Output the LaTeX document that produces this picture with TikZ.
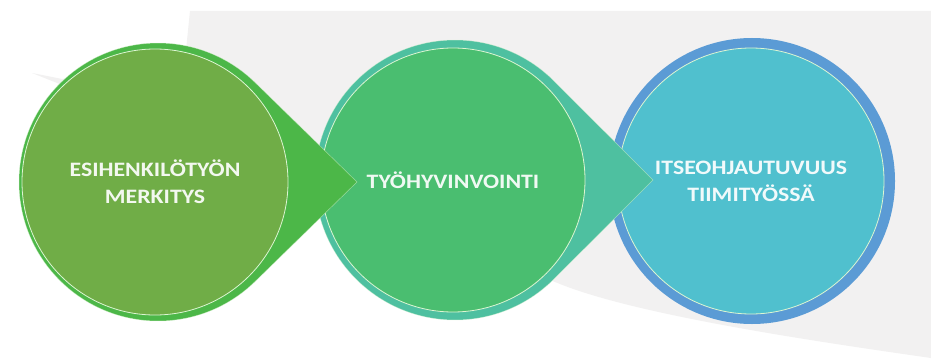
\documentclass[tikz,border=0pt]{standalone}
\usepackage{fontspec}
\setmainfont{Carlito}[FakeStretch=1.16]
\definecolor{bggray}{RGB}{242,241,241}
\definecolor{gOuter}{RGB}{76,183,72}
\definecolor{gInner}{RGB}{112,173,71}
\definecolor{tOuter}{RGB}{78,192,160}
\definecolor{tInner}{RGB}{74,190,112}
\definecolor{bOuter}{RGB}{91,155,213}
\definecolor{bInner}{RGB}{80,192,206}
\definecolor{rimline}{RGB}{220,245,210}
\newcommand\teardrop[5]{%
  \pgfmathsetmacro\tdang{acos(#3/(#4-#1))}%
  \filldraw[fill=#5, draw=rimline, draw opacity=0.55, line width=0.5pt]
    (#1,#2) ++(\tdang:#3) arc[start angle=\tdang, end angle=360-\tdang, radius=#3] -- (#4,#2) -- cycle;}
\tikzset{
  inner/.style={circle, minimum size=#1, inner sep=0pt, draw=rimline, line width=0.8pt,
    text=white, text opacity=0.92, align=center,
    font=\bfseries\fontsize{20.5}{27}\selectfont},
}
\begin{document}
\begin{tikzpicture}[x=1pt,y=-1pt]
\useasboundingbox (0,0) rectangle (931,361);
\fill[white] (0,0) rectangle (931,361);
% gray background plane
\fill[bggray] (190,11) -- (931,11) -- (931,358)
  .. controls (820,342) and (640,316) .. (560,284)
  -- (120,108) -- (32,73) -- (62,79) -- (185,60) -- cycle;
% third circle
\fill[bOuter] (752,181) circle[radius=143];
\node[inner=266pt, fill=bInner] (c3) at (751,181) {ITSEOHJAUTUVUUS\\TIIMITYÖSSÄ};
% second
\teardrop{455}{180}{140}{653}{tOuter}
\node[inner=264pt, fill=tInner] (c2) at (453,180) {TYÖHYVINVOINTI};
% first
\teardrop{158}{182}{139}{357}{gOuter}
\node[inner=266pt, fill=gInner] (c1) at (155,182) {ESIHENKILÖTYÖN\\MERKITYS};
\end{tikzpicture}
\end{document}
